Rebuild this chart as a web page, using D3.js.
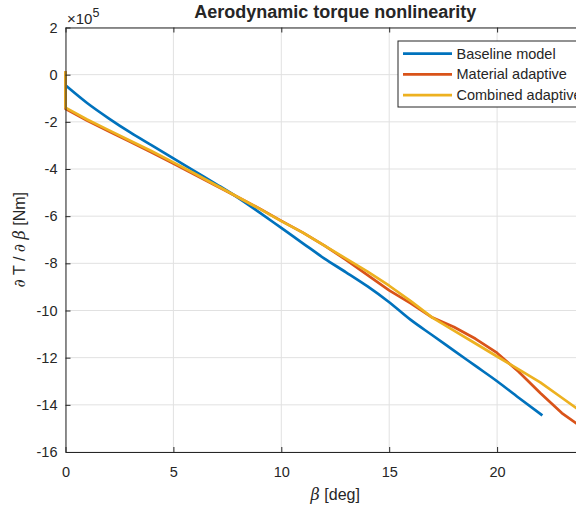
<!DOCTYPE html>
<html lang="en">
<head>
<meta charset="utf-8">
<title>Aerodynamic torque nonlinearity</title>
<script src="https://d3js.org/d3.v7.min.js"></script>
<style>
  body { margin: 0; background: #fff; }
  text { font-family: "Liberation Sans", Arial, Helvetica, sans-serif; fill: #262626; }
</style>
</head>
<body>
<div id="chart"></div>
<script>
// pitch angle in deg, dT/dbeta in units of 1e5 Nm
const betaBase = [0, 1, 2, 3, 4, 5, 6, 7, 8, 9, 10, 11, 12, 13, 14, 15, 16, 17, 18, 19, 20, 21, 22.1];
const baseline = [-0.45, -1.2, -1.85, -2.45, -3.0, -3.55, -4.1, -4.65, -5.22, -5.85, -6.5, -7.15, -7.8, -8.38, -8.98, -9.65, -10.4, -11.05, -11.7, -12.35, -13.0, -13.7, -14.45];

const betaAdapt = [0, 0, 1, 2, 3, 4, 5, 6, 7, 8, 9, 10, 11, 12, 13, 14, 15, 16, 17, 18, 19, 20, 21, 22, 23, 24];
const material = [0.15, -1.45, -1.95, -2.4, -2.85, -3.3, -3.77, -4.25, -4.72, -5.2, -5.68, -6.2, -6.7, -7.25, -7.85, -8.5, -9.15, -9.7, -10.3, -10.7, -11.2, -11.8, -12.6, -13.5, -14.35, -15.0];
const combined = [0.15, -1.4, -1.9, -2.35, -2.8, -3.25, -3.72, -4.2, -4.7, -5.2, -5.69, -6.21, -6.7, -7.25, -7.8, -8.35, -8.95, -9.6, -10.3, -10.85, -11.4, -11.95, -12.5, -13.05, -13.7, -14.35];

const seriesNames = ["Baseline model", "Material adaptive", "Combined adaptive"];
const colors = ["#0072BD", "#D95319", "#EDB120"];
const xTicks = [0, 5, 10, 15, 20];
const yTicks = [2, 0, -2, -4, -6, -8, -10, -12, -14, -16];

const W = 576, H = 510;
const margin = {top: 27.5, left: 65.5, right: -29, bottom: 58};
const width = W - margin.left - margin.right,
      height = H - margin.top - margin.bottom;

const svg = d3.select("#chart").append("svg")
    .attr("width", W).attr("height", H)
    .style("display", "block");

const g = svg.append("g")
    .attr("transform", "translate(" + margin.left + "," + margin.top + ")");

const x = d3.scaleLinear().domain([0, 25]).range([0, width]);
const y = d3.scaleLinear().domain([-16, 2]).range([height, 0]);

// grid
g.append("g").selectAll("line").data(xTicks).join("line")
    .attr("x1", d => x(d)).attr("x2", d => x(d))
    .attr("y1", 0).attr("y2", height)
    .attr("stroke", "#e1e1e1").attr("stroke-width", 1);
g.append("g").selectAll("line").data(yTicks).join("line")
    .attr("x1", 0).attr("x2", width)
    .attr("y1", d => y(d)).attr("y2", d => y(d))
    .attr("stroke", "#e1e1e1").attr("stroke-width", 1);

// lines
const series = [
  {name: seriesNames[0], xs: betaBase, ys: baseline, curve: d3.curveMonotoneX},
  {name: seriesNames[1], xs: betaAdapt, ys: material, curve: d3.curveLinear},
  {name: seriesNames[2], xs: betaAdapt, ys: combined, curve: d3.curveLinear}
];

g.selectAll(".series").data(series).join("path")
    .attr("class", "series")
    .attr("fill", "none")
    .attr("stroke", (d, i) => colors[i])
    .attr("stroke-width", 2.7)
    .attr("stroke-linejoin", "round")
    .attr("d", d => d3.line().curve(d.curve).x(p => x(p[0])).y(p => y(p[1]))
        (d.xs.map((b, i) => [b, d.ys[i]])));

// axes (MATLAB style, ticks inward, box on)
const fmt = d => String(d);
const xAxis = g.append("g")
    .attr("transform", "translate(0," + height + ")")
    .call(d3.axisBottom(x).tickValues(xTicks).tickFormat(fmt).tickSizeInner(-5).tickSizeOuter(0).tickPadding(15));
const xTop = g.append("g")
    .call(d3.axisTop(x).tickValues(xTicks).tickSizeInner(-5).tickSizeOuter(0).tickFormat(""));
const yAxis = g.append("g")
    .call(d3.axisLeft(y).tickValues(yTicks).tickFormat(fmt).tickSizeInner(-5).tickSizeOuter(0).tickPadding(8));

[xAxis, xTop, yAxis].forEach(a => {
  a.select(".domain").attr("stroke", "#262626").attr("stroke-width", 1);
  a.selectAll(".tick line").attr("stroke", "#262626");
  a.selectAll(".tick text").style("font-size", "14.5px").attr("fill", "#262626")
    .style("font-family", "'Liberation Sans', Arial, sans-serif");
});

// exponent label
const expo = g.append("text").attr("x", 1.5).attr("y", -3.5).style("font-size", "15px");
expo.append("tspan").text("\u00d710");
expo.append("tspan").attr("dy", -7.5).style("font-size", "12.5px").text("5");

// title
svg.append("text")
    .attr("x", margin.left + width / 2).attr("y", 17.5)
    .attr("text-anchor", "middle")
    .style("font-size", "18px").style("font-weight", "bold")
    .attr("fill", "#000")
    .text("Aerodynamic torque nonlinearity");

// x label
const xl = svg.append("text")
    .attr("x", margin.left + width / 2).attr("y", 500)
    .attr("text-anchor", "middle").style("font-size", "16px");
xl.append("tspan").style("font-style", "italic").style("font-family", "'DejaVu Serif', serif").text("\u03b2");
xl.append("tspan").text(" [deg]");

// y label
const yl = svg.append("text")
    .attr("transform", "translate(25," + (margin.top + height / 2) + ") rotate(-90)")
    .attr("text-anchor", "middle").style("font-size", "16px");
yl.append("tspan").style("font-style", "italic").style("font-family", "'DejaVu Serif', serif").text("\u2202");
yl.append("tspan").text(" T / ");
yl.append("tspan").style("font-style", "italic").style("font-family", "'DejaVu Serif', serif").text("\u2202");
yl.append("tspan").text(" ");
yl.append("tspan").style("font-style", "italic").style("font-family", "'DejaVu Serif', serif").text("\u03b2");
yl.append("tspan").text(" [Nm]");

// legend
const lg = svg.append("g").attr("transform", "translate(398,41)");
lg.append("rect")
    .attr("x", 0).attr("y", 0).attr("width", 200).attr("height", 66)
    .attr("fill", "#fff").attr("stroke", "#262626").attr("stroke-width", 1);
const rows = lg.selectAll(".row").data(seriesNames).join("g")
    .attr("class", "row")
    .attr("transform", (d, i) => "translate(0," + (12.6 + i * 20.8) + ")");
rows.append("line")
    .attr("x1", 5).attr("x2", 54).attr("y1", 0).attr("y2", 0)
    .attr("stroke", (d, i) => colors[i]).attr("stroke-width", 2.7);
rows.append("text")
    .attr("x", 58.5).attr("y", 5)
    .style("font-size", "14.5px").attr("fill", "#000")
    .text(d => d);
</script>
</body>
</html>
